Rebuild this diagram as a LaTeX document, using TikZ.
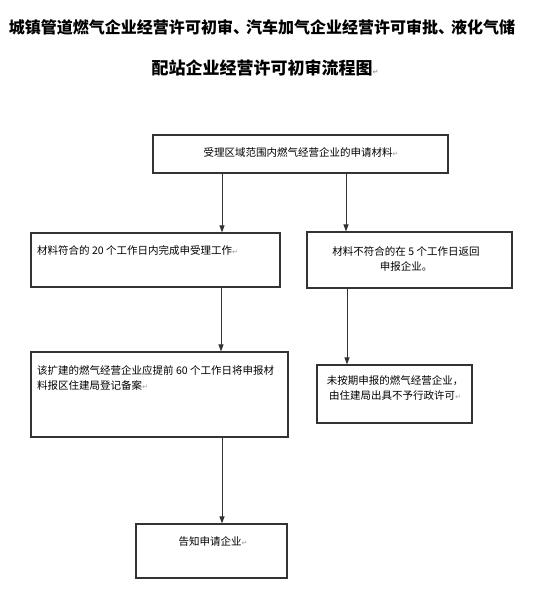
\documentclass[tikz,border=0pt]{standalone}
\usepackage{fontspec}
\newfontfamily\cjk{Noto Sans CJK SC}
\newfontfamily\sym{DejaVu Sans}
\usetikzlibrary{arrows.meta}
\definecolor{linec}{HTML}{333333}
\definecolor{markc}{HTML}{9A9A9A}
\newcommand{\pmark}{{\sym\fontsize{7}{7}\selectfont\textcolor{markc}{↵}}}
\tikzset{
  box/.style={draw=linec, line width=1.1pt, inner sep=0pt},
  arr/.style={draw=linec, line width=1pt, -{Triangle[length=7pt,width=5pt]}},
  txt/.style={inner sep=0pt, font=\cjk\fontsize{10.5}{15}\selectfont, text=black},
  ttl/.style={inner sep=0pt, font=\cjk\bfseries\fontsize{16}{20}\selectfont, text=black}
}
\begin{document}
\begin{tikzpicture}[x=1pt,y=-1pt]
\useasboundingbox (0,0) rectangle (537,599);
\fill[white] (0,0) rectangle (537,599);
% title
\node[ttl] (title1) at (262,27) {城镇管道燃气企业经营许可初审、\kern-3pt汽车加气企业经营许可审批、\kern-3pt液化气储};
\node[ttl, font=\cjk\bfseries\fontsize{17}{20}\selectfont] (title2) at (265,68) {配站企业经营许可初审流程图\pmark};
% boxes
\node[box, minimum width=295pt, minimum height=38pt] (b1) at (300.5,154) {};
\node[box, minimum width=249pt, minimum height=54pt] (b2) at (155.5,260) {};
\node[box, minimum width=205pt, minimum height=56pt] (b3) at (409.5,260) {};
\node[box, minimum width=257pt, minimum height=85pt] (b4) at (159.5,394.5) {};
\node[box, minimum width=155pt, minimum height=58pt] (b5) at (394.5,394) {};
\node[box, minimum width=151pt, minimum height=54pt] (b6) at (211.5,551) {};
% texts
\node[txt] (t1) at (301,152) {受理区域范围内燃气经营企业的申请材料\pmark};
\node[txt, anchor=west] (t2) at (37,250) {材料符合的 20 个工作日内完成申受理工作\pmark};
\node[txt, align=center, anchor=north] (t3) at (406,246) {材料不符合的在 5 个工作日返回\\申报企业。};
\node[txt, align=left, anchor=north west] (t4) at (37,365) {该扩建的燃气经营企业应提前 60 个工作日将申报材\\料报区住建局登记备案\pmark};
\node[txt, align=center, anchor=north] (t5) at (395,375.5) {未按期申报的燃气经营企业，\\由住建局出具不予行政许可\pmark};
\node[txt] (t6) at (213,542) {告知申请企业\pmark};
% connectors
\draw[arr] (b1.south -| 222,0) -- (b2.north -| 222,0);
\draw[arr] (b1.south -| 346,0) -- (b3.north -| 346,0);
\draw[arr] (b2.south -| 221,0) -- (b4.north -| 221,0);
\draw[arr] (b3.south -| 347,0) -- (b5.north -| 347,0);
\draw[arr] (b4.south -| 222,0) -- (b6.north -| 222,0);
\end{tikzpicture}
\end{document}
